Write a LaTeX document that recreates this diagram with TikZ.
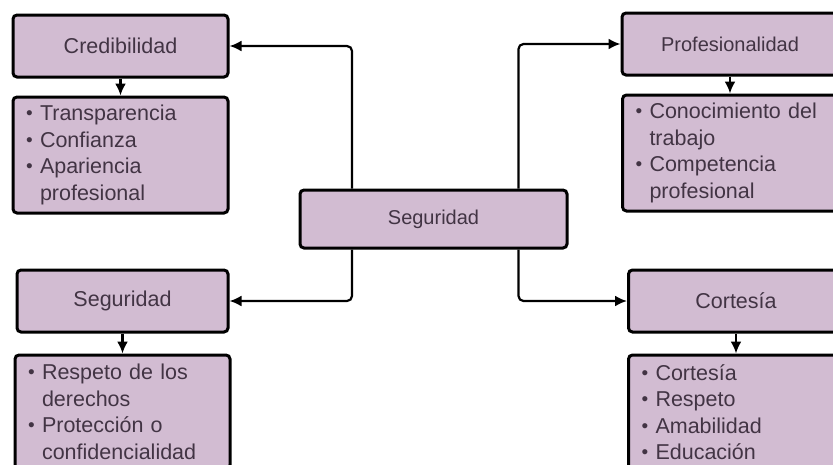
\documentclass[tikz,border=0pt]{standalone}
\usepackage{fontspec}
\setmainfont{Liberation Sans}
\usepackage{xcolor}
\usetikzlibrary{positioning, arrows.meta}
\definecolor{malva}{RGB}{210,188,210}
\definecolor{tinta}{RGB}{66,52,68}
\newcommand{\blt}{\makebox[14pt][l]{\raisebox{1pt}{\fontsize{19}{19}\selectfont\textbullet}}}
\newcommand{\sangria}{\hspace*{14pt}}

\begin{document}
\begin{tikzpicture}[x=1pt, y=-1pt, node distance=17pt,
  every node/.style={font=\fontsize{21.5}{26.5}\selectfont, text=tinta},
  caja/.style={draw=black, line width=3pt, rounded corners=4pt, fill=malva, minimum width=215pt, minimum height=62pt, align=center},
  lista/.style={caja, text width=189pt, inner xsep=13pt, minimum height=116pt, align=left},
  flecha/.style={-{Latex[length=12pt,width=11pt]}, line width=2.2pt, rounded corners=5pt}]
  \clip (0,0) rectangle (833,464);

  \node[caja, minimum width=267pt, minimum height=58pt, font=\fontsize{20}{24}\selectfont] (seg) at (433.5,219) {Seguridad};

  \node[caja] (cred) at (120.5,46) {Credibilidad};
  \node[lista, below=of cred] (credlist) {\blt Transparencia\\ \blt Confianza\\ \blt Apariencia\\ \sangria profesional};

  \node[caja, minimum width=216pt, font=\fontsize{20}{24}\selectfont] (prof) at (730,44) {Profesionalidad};
  \node[lista, below=of prof] (proflist) {\blt Conocimiento del\\ \sangria trabajo\\ \blt Competencia\\ \sangria profesional};

  \node[caja, minimum width=211pt] (segl) at (122.5,301) {Seguridad};
  \node[lista, below=20pt of segl, minimum height=114pt] (segllist) {\blt Respeto de los\\ \sangria derechos\\ \blt Protección o\\ \sangria confidencialidad};

  \node[caja] (cort) at (736,301) {Cortesía};
  \node[lista, below=20pt of cort, minimum height=114pt] (cortlist) {\blt Cortesía\\ \blt Respeto\\ \blt Amabilidad\\ \blt Educación};

  \draw[flecha] ([xshift=-81.5pt]seg.north) |- (cred);
  \draw[flecha] ([xshift=85pt]seg.north) |- (prof);
  \draw[flecha] ([xshift=-81.5pt]seg.south) |- (segl);
  \draw[flecha] ([xshift=85pt]seg.south) |- (cort);

  \draw[flecha] (cred) -- (credlist);
  \draw[flecha] (prof) -- (proflist);
  \draw[flecha] (segl) -- (segllist);
  \draw[flecha] (cort) -- (cortlist);
\end{tikzpicture}
\end{document}
